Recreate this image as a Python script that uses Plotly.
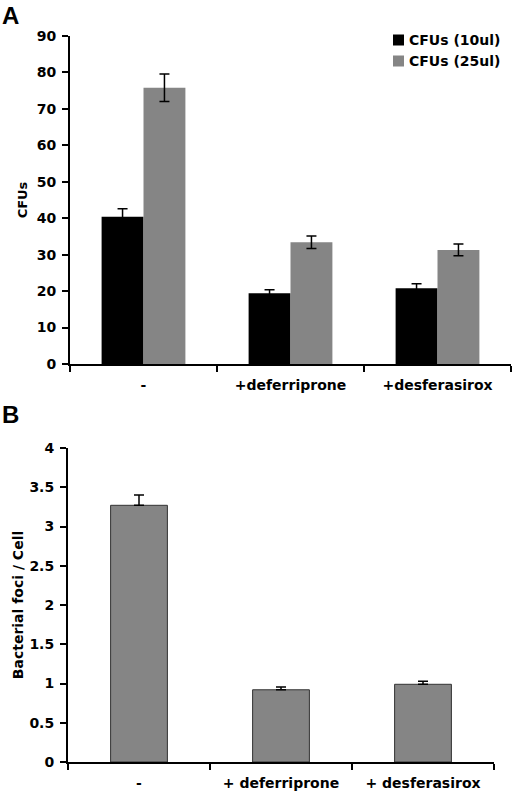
import plotly.graph_objects as go

# panel A data
cats_a = ['-', '+deferriprone', '+desferasirox']
series_a = ['CFUs (10ul)', 'CFUs (25ul)']
cfu_10 = [40.4, 19.4, 20.8]
cfu_10_err = [2.2, 1.0, 1.2]
cfu_25 = [75.8, 33.4, 31.3]
cfu_25_err = [3.8, 1.7, 1.6]

# panel B data
cats_b = ['-', '+ deferriprone', '+ desferasirox']
foci = [3.27, 0.92, 0.99]
foci_err = [0.13, 0.035, 0.04]

W, H = 520, 792
FONT = 'DejaVu Sans'
GRAY = '#858585'
colors_a = ['black', GRAY]

fig = go.Figure()

for name, vals, errs, col in zip(series_a, [cfu_10, cfu_25], [cfu_10_err, cfu_25_err], colors_a):
    fig.add_trace(go.Bar(
        x=cats_a, y=vals, name=name,
        marker=dict(color=col, line=dict(width=0)),
        error_y=dict(type='data', array=errs, color='black', thickness=1.5, width=5),
        xaxis='x', yaxis='y', showlegend=False,
    ))

fig.add_trace(go.Bar(
    x=cats_b, y=foci, showlegend=False,
    marker=dict(color=GRAY, line=dict(width=1, color='#333333')),
    error_y=dict(type='data', symmetric=False, array=foci_err, arrayminus=[0, 0, 0],
                 color='black', thickness=1.5, width=5),
    xaxis='x2', yaxis='y2', width=0.4,
))

def px_x(a, b):
    return [a / W, b / W]

def px_y(top, bottom):
    return [1 - bottom / H, 1 - top / H]

axis_font = dict(family=FONT, size=14, color='black', weight='bold')
common_x = dict(type='category', showline=True, linecolor='black', linewidth=2,
                ticks='outside', tickson='boundaries', ticklen=6, tickwidth=2,
                tickcolor='black', tickfont=axis_font, showgrid=False, zeroline=False,
                automargin=False, ticklabelstandoff=7)
common_y = dict(showline=True, linecolor='black', linewidth=2, ticks='outside',
                ticklen=6, tickwidth=2, tickcolor='black', tickfont=axis_font,
                showgrid=False, zeroline=False, automargin=False, ticklabelstandoff=3)

# hand-made legend (square + label) for panel A
legend_shapes = []
legend_notes = []
for i, (name, col) in enumerate(zip(series_a, colors_a)):
    yc = 40 + i * 21
    legend_shapes.append(dict(type='rect', xref='paper', yref='paper',
                              x0=393 / W, x1=404 / W, y0=1 - (yc + 5.5) / H, y1=1 - (yc - 5.5) / H,
                              fillcolor=col, line=dict(width=0)))
    legend_notes.append(dict(text=name, x=407 / W, y=1 - yc / H, xref='paper', yref='paper',
                             xanchor='left', yanchor='middle', showarrow=False,
                             font=dict(family=FONT, size=14, color='black', weight='bold')))

fig.update_layout(
    width=W, height=H,
    margin=dict(l=0, r=0, t=0, b=0),
    paper_bgcolor='white', plot_bgcolor='white',
    barmode='group', bargap=0.43, bargroupgap=0,
    font=dict(family=FONT, color='black'),
    showlegend=False,
    xaxis=dict(domain=px_x(70, 511), anchor='y', **common_x),
    yaxis=dict(domain=px_y(36, 364), anchor='x', range=[0, 90], dtick=10,
               title=dict(text='CFUs', font=dict(family=FONT, size=13, color='black', weight='bold'),
                          standoff=6), **common_y),
    xaxis2=dict(domain=px_x(68, 494), anchor='y2', **common_x),
    yaxis2=dict(domain=px_y(448, 762), anchor='x2', range=[0, 4], dtick=0.5,
                title=dict(text='Bacterial foci / Cell',
                           font=dict(family=FONT, size=14, color='black', weight='bold'),
                           standoff=2),
                **common_y),
    shapes=legend_shapes,
    annotations=legend_notes + [
        dict(text='A', x=0, y=1 - 0 / H, xref='paper', yref='paper', xanchor='left',
             yanchor='top', showarrow=False,
             font=dict(family='Liberation Sans', size=24, color='black', weight='bold')),
        dict(text='B', x=0, y=1 - 399 / H, xref='paper', yref='paper', xanchor='left',
             yanchor='top', showarrow=False,
             font=dict(family='Liberation Sans', size=24, color='black', weight='bold')),
    ],
)

fig.write_html('out.html', config={'displayModeBar': False},
               post_script="document.body.style.margin='0';")
